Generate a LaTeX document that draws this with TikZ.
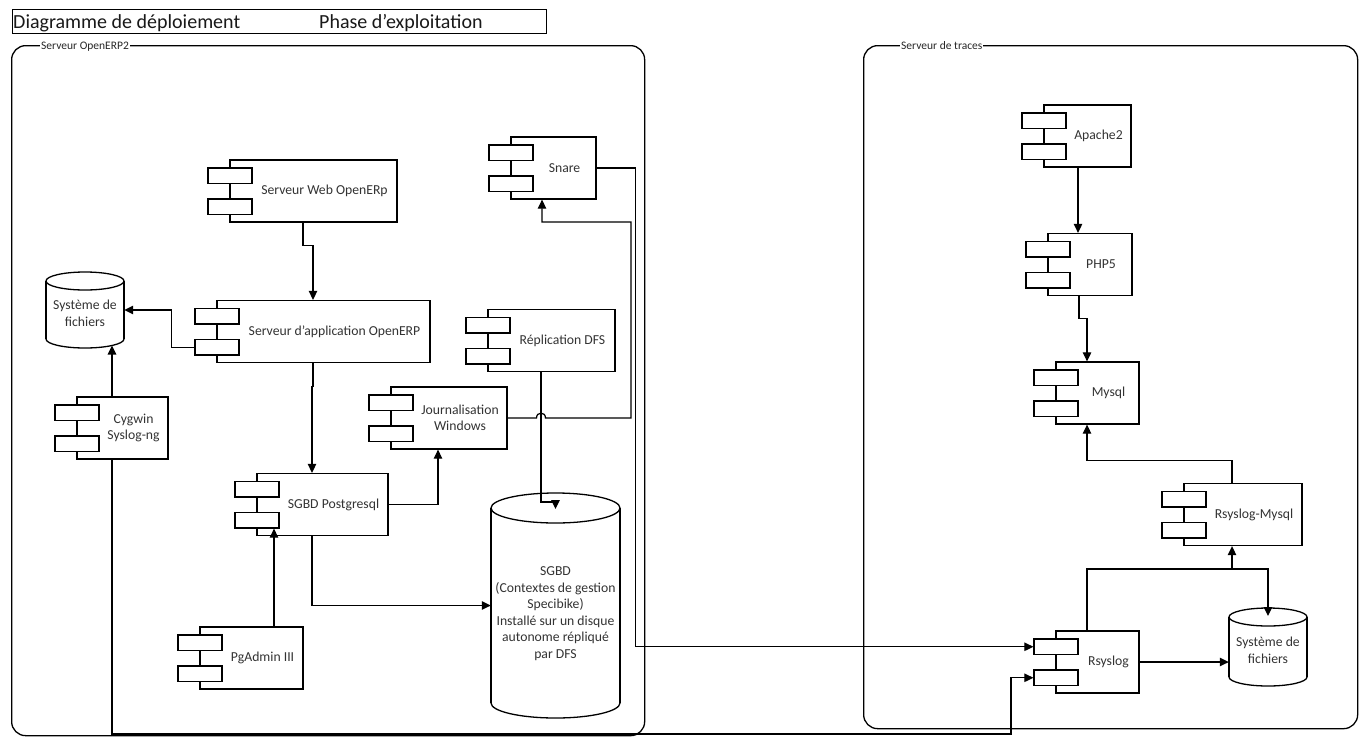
\documentclass[tikz,border=0pt]{standalone}
\usepackage{fontspec}
\setmainfont{Carlito}
\usetikzlibrary{arrows.meta,calc}
\newcommand{\compo}[5]{%
  \node[body, minimum width=#4pt] (#1) at (#2,#3) {};
  \node[tabbox] (#1-a) at ($(#1.north west)+(-22,8)$) {};
  \node[tabbox] (#1-b) at ($(#1.north west)+(-22,39)$) {};
  \node[lbl] (#1-t) at ($(#1.center)+(11,0)$) {#5};
}
\newcommand{\cyl}[8]{%
  \pgfmathsetmacro\cylcx{(#2+#4)/2}%
  \pgfmathsetmacro\cylrx{(#4-#2)/2}%
  \pgfmathsetmacro\cylw{#4-#2}%
  \pgfmathsetmacro\cylh{#5-#3}%
  \pgfmathsetmacro\cylcy{(#3+#5)/2}%
  \draw[cylb, fill=white] (\cylcx,#5-#6) ellipse [x radius=\cylrx pt, y radius=#6 pt];
  \fill[white] (#2,#3+#6) rectangle (#4,#5-#6);
  \draw[cylb] (#2,#3+#6) -- (#2,#5-#6) (#4,#3+#6) -- (#4,#5-#6);
  \draw[cylb, fill=white] (\cylcx,#3+#6) ellipse [x radius=\cylrx pt, y radius=#6 pt];
  \node[inner sep=0pt, minimum width=\cylw pt, minimum height=\cylh pt] (#1) at (\cylcx,\cylcy) {};
  \node[lbl] (#1-t) at (\cylcx,\cylcy+#7) {#8};
}
\begin{document}
\begin{tikzpicture}[x=1pt,y=-1pt,
  body/.style={draw=black, line width=1.3pt, fill=white, minimum height=62pt, inner sep=0pt},
  tabbox/.style={draw=black, line width=1.3pt, fill=white, minimum width=44pt, minimum height=15.5pt, inner sep=0pt, anchor=north west},
  lbl/.style={font=\fontsize{13.7}{16.5}\selectfont, text=black!80, inner sep=0pt, align=center},
  cylb/.style={draw=black, line width=1.3pt},
  conn/.style={line width=1.25pt, draw=black, -{Triangle[length=9pt,width=8.5pt]}},
  frame/.style={draw=black, line width=1.3pt, rounded corners=14pt, inner sep=0pt, anchor=north west},
  ftitle/.style={font=\fontsize{11.5}{13}\selectfont, fill=white, inner xsep=1pt, inner ysep=1pt, anchor=base west, text=black!85},
  ttl/.style={font=\fontsize{20}{24}\selectfont, inner sep=0pt, anchor=base west, text=black!90}
]
\useasboundingbox (0,0) rectangle (1360,737);
\fill[white] (0,0) rectangle (1360,737);

% title
\node[draw=black, line width=1.2pt, minimum width=534pt, minimum height=24pt, inner sep=0pt, anchor=north west] (tbox) at (12,9) {};
\node[ttl] (t1) at (13,28) {Diagramme de déploiement};
\node[ttl] (t2) at (319,28) {Phase d’exploitation};

% frames
\node[frame, minimum width=633pt, minimum height=690pt] (srv1) at (11,45) {};
\node[ftitle] (srv1t) at (40,49.5) {Serveur OpenERP2};
\node[frame, minimum width=494pt, minimum height=683pt] (srv2) at (863,45) {};
\node[ftitle] (srv2t) at (900,49.5) {Serveur de traces};

% components
\compo{web}{313.5}{191}{167}{Serveur Web OpenERp}
\compo{app}{323.5}{331.5}{213}{Serveur d’application OpenERP}
\compo{pg}{322.5}{504.5}{131}{SGBD Postgresql}
\compo{pga}{251.5}{658}{103}{PgAdmin III}
\compo{cyg}{122.5}{428}{91}{Cygwin\\Syslog-ng}
\compo{jw}{449}{418}{116}{Journalisation\\Windows}
\compo{snare}{553.5}{168}{85}{Snare}
\compo{dfs}{551.5}{340.5}{127}{Réplication DFS}
\compo{apache}{1087.5}{136}{87}{Apache2}
\compo{php}{1090}{264.5}{84}{PHP5}
\compo{mysql}{1097.5}{393}{83}{Mysql}
\compo{rmysql}{1243}{514.5}{118}{Rsyslog-Mysql}
\compo{rsyslog}{1097.5}{662}{83}{Rsyslog}

% cylinders
\cyl{fs1}{46}{272}{124}{348}{9}{3.5}{Système de\\fichiers}
\cyl{db}{491}{493}{620}{718}{15}{8}{SGBD\\(Contextes de gestion\\Specibike)\\Installé sur un disque\\autonome répliqué\\par DFS}
\cyl{fs2}{1229}{608}{1307}{686}{9}{3.5}{Système de\\fichiers}

\coordinate (fs1b) at (112,345.5);
\coordinate (dbtop) at (555.5,509);
\coordinate (fs2top) at (1268,616);
\coordinate (rj) at (1232,569);

% connectors
\draw[conn] ([xshift=-10.5pt]web.south) -- ++(0,23) -| ([xshift=-10.5pt]app.north);
\draw[conn] ([xshift=-10.5pt]app.south) -- ++(0,23) -| ([xshift=-10.5pt]pg.north);
\draw[conn] (app-b.west) -- ++(-23,0) |- (fs1.east);
\draw[conn] ([xshift=-10.5pt]cyg.north) -- (fs1b);
\draw[conn] ([xshift=-10.5pt]cyg.south) |- (1011,734) |- (rsyslog-b.west);
\draw[conn] (pg.east) -| ([xshift=-11pt]jw.south);
\draw[conn] ([xshift=-10.5pt]pg.south) |- (db.west);
\draw[conn] ([xshift=22.5pt]pga.north) -- ([xshift=22.5pt]pga.north |- pg-b.south);
\draw[conn] ([xshift=-10.5pt]dfs.south) |- ($(dbtop)+(0,-7)$) -- (dbtop);
\draw[conn] (jw.east) -- (536.5,418) .. controls (536.5,411.5) and (545.5,411.5) .. (545.5,418) -- (631,418) |- (542,222) -- ([xshift=-11.5pt]snare.south);
\draw[conn] (snare.east) -- ++(39,0) |- (rsyslog-a.west);
\draw[conn] ([xshift=-9.5pt]apache.south) -- ([xshift=-9.5pt]apache.south |- php.north);
\draw[conn] ([xshift=-11pt]php.south) -- ++(0,22) -| ([xshift=-10.5pt]mysql.north);
\draw[conn] ([xshift=-11pt]rmysql.north) -- ++(0,-22) -| ([xshift=-10.5pt]mysql.south);
\draw[conn] ([xshift=-10.5pt]rsyslog.north) |- (1268,569) -- (fs2top);
\draw[conn] (rj) -- ([xshift=-11pt]rmysql.south);
\draw[conn] (rsyslog.east) -- (rsyslog.east -| fs2.west);
\end{tikzpicture}
\end{document}
